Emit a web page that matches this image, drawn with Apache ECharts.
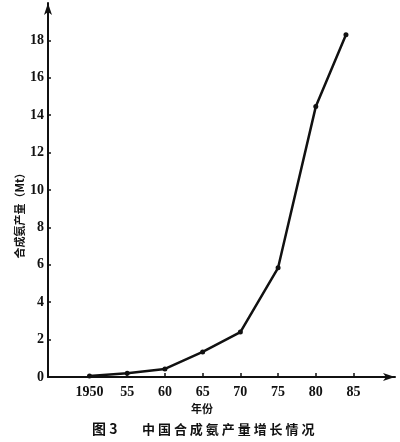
<!DOCTYPE html>
<html>
<head>
<meta charset="utf-8">
<script src="https://cdn.jsdelivr.net/npm/echarts@6/dist/echarts.min.js"></script>
<style>html,body{margin:0;padding:0;background:#fff}#c{width:400px;height:442px}</style>
</head>
<body>
<div id="c"></div>
<script>
var years = [1950, 1955, 1960, 1965, 1970, 1975, 1980, 1984];
var output = [0.05, 0.2, 0.43, 1.34, 2.4, 5.84, 14.46, 18.3];
var xTickValues = [1950, 1955, 1960, 1965, 1970, 1975, 1980, 1985];
var xTickLabels = ['1950', '55', '60', '65', '70', '75', '80', '85'];
var yTickValues = [0, 2, 4, 6, 8, 10, 12, 14, 16, 18];
var yAxisTitle = '合成氨产量（Mt）';
var xAxisTitle = '年份';
var figTitle = '图 3';
var chartTitle = '中 国 合 成 氨 产 量 增 长 情 况';

var ink = '#111';
var chart = echarts.init(document.getElementById('c'), null, {renderer: 'canvas'});
chart.setOption({
  backgroundColor: '#fff',
  animation: false,
  grid: {left: 48, right: 5, top: 3, bottom: 65, containLabel: false},
  xAxis: {
    type: 'value', min: 1944.5, max: 1990.5,
    axisLine: {show: true, lineStyle: {color: ink, width: 2}, symbol: ['none', 'arrow'], symbolSize: [6, 12]},
    axisTick: {show: true, inside: true, length: 4, lineStyle: {color: ink, width: 1.5},
      customValues: xTickValues.slice(1)},
    axisLabel: {show: true, margin: 8, color: ink, fontFamily: 'Liberation Serif', fontWeight: 'bold', fontSize: 14,
      customValues: xTickValues,
      formatter: function (v) { var i = xTickValues.indexOf(Math.round(v)); return i >= 0 ? xTickLabels[i] : ''; }},
    splitLine: {show: false}
  },
  yAxis: {
    type: 'value', min: 0, max: 20,
    axisLine: {show: true, lineStyle: {color: ink, width: 2}, symbol: ['none', 'arrow'], symbolSize: [6, 12]},
    axisTick: {show: true, inside: true, length: 3, lineStyle: {color: ink, width: 1.5},
      customValues: yTickValues.slice(1)},
    axisLabel: {show: true, margin: 4, color: ink, fontFamily: 'Liberation Serif', fontWeight: 'bold', fontSize: 14,
      customValues: yTickValues},
    splitLine: {show: false}
  },
  series: [{
    type: 'line',
    data: years.map(function (y, i) { return [y, output[i]]; }),
    symbol: 'circle', symbolSize: 5,
    itemStyle: {color: ink},
    lineStyle: {color: ink, width: 2.5},
    z: 5
  }],
  graphic: [
    {type: 'text', x: 20, y: 213, rotation: Math.PI / 2, style: {text: yAxisTitle, fill: ink, font: 'bold 11px "Noto Sans CJK SC"', align: 'center', verticalAlign: 'middle'}},
    {type: 'text', x: 202, y: 409, style: {text: xAxisTitle, fill: ink, font: 'bold 11px "Noto Sans CJK SC"', align: 'center', verticalAlign: 'middle'}},
    {type: 'text', x: 92, y: 429, style: {text: figTitle, fill: ink, font: 'bold 14px "Noto Sans CJK SC"', align: 'left', verticalAlign: 'middle'}},
    {type: 'text', x: 142, y: 429, style: {text: chartTitle, fill: ink, font: 'bold 13px "Noto Sans CJK SC"', align: 'left', verticalAlign: 'middle'}}
  ]
});
</script>
</body>
</html>
